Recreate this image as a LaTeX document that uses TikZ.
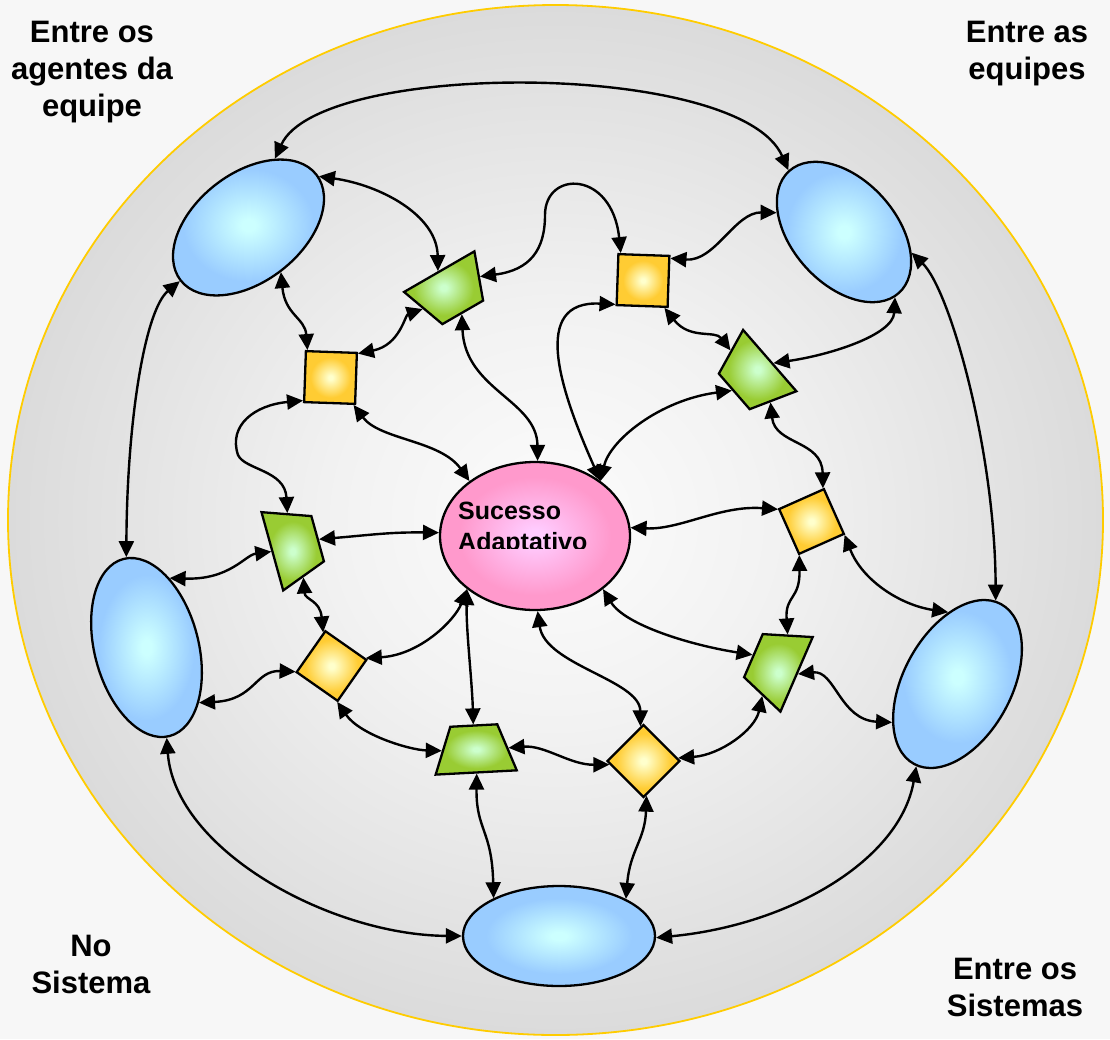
\documentclass[tikz,border=0pt]{standalone}
\usepackage{fontspec}
\setmainfont{Liberation Sans}
\usetikzlibrary{shapes.geometric,arrows.meta}
\definecolor{bgout}{HTML}{F7F7F7}
\definecolor{circgold}{HTML}{FFCC00}
\definecolor{bigIn}{HTML}{FCFCFC}
\definecolor{bigMid}{HTML}{F2F2F2}
\definecolor{bigOut}{HTML}{DBDBDB}
\definecolor{blueIn}{HTML}{CCFFFF}
\definecolor{blueOut}{HTML}{99CCFF}
\definecolor{yelIn}{HTML}{FFFFCC}
\definecolor{yelOut}{HTML}{FFCC33}
\definecolor{grnIn}{HTML}{CCFFCC}
\definecolor{grnOut}{HTML}{99CC33}
\definecolor{pnkIn}{HTML}{FFCCFF}
\definecolor{pnkOut}{HTML}{FF99CC}
\pgfdeclareradialshading{bigshade}{\pgfpoint{0bp}{0bp}}{color(0bp)=(bigIn); color(10bp)=(bigMid); color(25bp)=(bigOut); color(50bp)=(bigOut)}
\pgfdeclareradialshading{blueshade}{\pgfpoint{0bp}{0bp}}{color(0bp)=(blueIn); color(2bp)=(blueIn); color(19bp)=(blueOut); color(50bp)=(blueOut)}
\pgfdeclareradialshading{yelshade}{\pgfpoint{0bp}{0bp}}{color(0bp)=(yelIn); color(2bp)=(yelIn); color(19bp)=(yelOut); color(50bp)=(yelOut)}
\pgfdeclareradialshading{grnshade}{\pgfpoint{0bp}{0bp}}{color(0bp)=(grnIn); color(2bp)=(grnIn); color(19bp)=(grnOut); color(50bp)=(grnOut)}
\pgfdeclareradialshading{pnkshade}{\pgfpoint{0bp}{0bp}}{color(0bp)=(pnkIn); color(2bp)=(pnkIn); color(20bp)=(pnkOut); color(50bp)=(pnkOut)}
\begin{document}
\begin{tikzpicture}[x=1pt,y=-1pt,
  blueell/.style={ellipse, draw=black, line width=2.3pt, shading=blueshade, inner sep=0pt},
  pinkell/.style={ellipse, draw=black, line width=2.3pt, shading=pnkshade, inner sep=0pt},
  sq/.style={rectangle, draw=black, line width=2.3pt, shading=yelshade, inner sep=0pt, minimum size=51pt},
  trap/.style={trapezium, trapezium angle=70, draw=black, line width=2.3pt, shading=grnshade, inner sep=0.5pt, minimum width=71pt, minimum height=47pt},
  link/.style={line width=2.4pt, >={Triangle[length=16pt,width=15pt]}, <->},
  corner/.style={font=\bfseries\fontsize{31}{37}\selectfont, align=center, inner sep=0pt},
  lbl/.style={font=\bfseries\fontsize{25}{30}\selectfont, inner sep=0pt}
]
\fill[bgout] (0,0) rectangle (1110,1039);
\useasboundingbox (0,0) rectangle (1110,1039);
\shade[shading=bigshade] (555.5,520) ellipse [x radius=547.5pt, y radius=515pt];
\draw[circgold, line width=1.8pt] (555.5,520) ellipse [x radius=547.5pt, y radius=515pt];

% corner texts
\node[corner] (ca) at (92,72) {Entre os\\agentes da\\equipe};
\node[corner] (cb) at (1027,54) {Entre as\\equipes};
\node[corner] (cc) at (91,964) {No\\Sistema};
\node[corner] (cd) at (1015,987) {Entre os\\Sistemas};

% ellipses
\node[blueell, minimum width=172pt, minimum height=108pt, rotate=38] (tl) at (248.5,227.5) {};
\node[blueell, minimum width=164pt, minimum height=104pt, rotate=-48] (tr) at (844,232) {};
\node[blueell, minimum width=183pt, minimum height=104pt, rotate=104.6] (lf) at (146.5,647.5) {};
\node[blueell, minimum width=182pt, minimum height=108pt, rotate=61.4] (rt) at (957.5,684) {};
\node[blueell, minimum width=192pt, minimum height=100pt] (bt) at (559,936) {};
\node[pinkell, minimum width=190pt, minimum height=148pt] (ce) at (535,536) {};

% squares
\node[sq, rotate=-2] (s1) at (330.5,377.5) {};
\node[sq, rotate=-2] (s2) at (643,280.5) {};
\node[sq, minimum size=49pt, rotate=24] (s3) at (811.5,521.5) {};
\node[sq, minimum size=50pt, rotate=55] (s4) at (331.5,666) {};
\node[sq, rotate=45] (s5) at (643.5,761) {};

% trapezoids
\node[trap, rotate=210] (t1) at (451,292) {};
\node[trap, rotate=131] (t2) at (752,376) {};
\node[trap, rotate=-74.5] (t3) at (295,545) {};
\node[trap, rotate=66.6] (t4) at (775,665) {};
\node[trap, rotate=3] (t5) at (475,749) {};

% centre label
\begin{scope}
\clip (440,470) rectangle (640,548);
\node[lbl, anchor=base west] (suc) at (458,519) {Sucesso};
\node[lbl, anchor=base west] (ada) at (458,550) {Adaptativo};
\end{scope}

% connectors
\draw[link] (tl.31) .. controls (320,60) and (740,60) .. (tr.180);
\draw[link] (tl.358) .. controls (380,185) and (437,215) .. (t1.272);
\draw[link] (tl.268) .. controls (285,315) and (305,318) .. (s1.132);
\draw[link] (tl.180) .. controls (145,310) and (127,420) .. (lf.358);
\draw[link] (tr.31) .. controls (950,290) and (995,450) .. (rt.4);
\draw[link] (tr.212) .. controls (735,212) and (715,262) .. (s2.41);
\draw[link] (tr.356) .. controls (893,335) and (830,355) .. (t2.260);
\draw[link] (t1.178) .. controls (530,270) and (545,250) .. (545,215) .. controls (545,170) and (612,170) .. (s2.131);
\draw[link] (s2.223) .. controls (530,300) and (560,390) .. (ce.40);
\draw[link] (s2.310) .. controls (690,340) and (715,330) .. (t2.359);
\draw[link] (t1.86) .. controls (465,390) and (537,400) .. (ce.88);
\draw[link] (t1.1) .. controls (405,315) and (400,345) .. (s1.43);
\draw[link] (s1.222) .. controls (255,405) and (228,425) .. (238,455) .. controls (245,470) and (285,470) .. (t3.178);
\draw[link] (s1.312) .. controls (380,440) and (440,440) .. (ce.140);
\draw[link] (t2.85) .. controls (660,400) and (610,440) .. (ce.40);
\draw[link] (t2.174) .. controls (775,445) and (822,440) .. (s3.47);
\draw[link] (s3.136) .. controls (720,505) and (680,530) .. (ce.5);
\draw[link] (s3.314) .. controls (862,580) and (900,605) .. (rt.36);
\draw[link] (s3.226) .. controls (800,600) and (785,595) .. (t4.1);
\draw[link] (t4.89) .. controls (690,645) and (625,625) .. (ce.322);
\draw[link] (t4.272) .. controls (835,670) and (840,720) .. (rt.149);
\draw[link] (t4.181) .. controls (755,730) and (720,755) .. (s5.320);
\draw[link] (rt.182) .. controls (900,860) and (790,925) .. (bt.359);
\draw[link] (lf.178) .. controls (175,850) and (330,935) .. (bt.180);
\draw[link] (t3.270) .. controls (245,555) and (230,580) .. (lf.327);
\draw[link] (t3.88) .. controls (370,535) and (390,532) .. (ce.178);
\draw[link] (t3.359) .. controls (305,600) and (320,600) .. (s4.49);
\draw[link] (s4.134) .. controls (255,670) and (255,700) .. (lf.209);
\draw[link] (s4.318) .. controls (420,655) and (455,620) .. (ce.218);
\draw[link] (s4.224) .. controls (360,735) and (410,750) .. (t5.180);
\draw[link] (t5.91) .. controls (472,680) and (466,630) .. (ce.218);
\draw[link] (t5.359) .. controls (545,745) and (570,765) .. (s5.141);
\draw[link] (s5.50) .. controls (640,680) and (545,665) .. (ce.272);
\draw[link] (t5.271) .. controls (476,830) and (492,830) .. (bt.150);
\draw[link] (s5.230) .. controls (645,840) and (630,850) .. (bt.29);
\end{tikzpicture}
\end{document}
